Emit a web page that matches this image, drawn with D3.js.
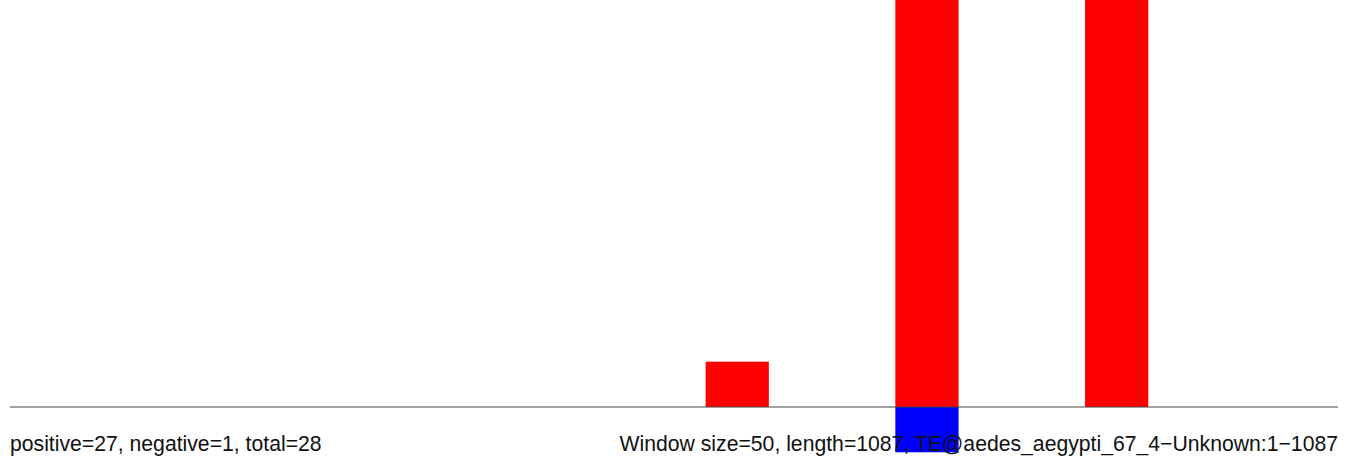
<!DOCTYPE html>
<html>
<head>
<meta charset="utf-8">
<script src="https://cdn.jsdelivr.net/npm/d3@7"></script>
<style>
  html, body { margin: 0; padding: 0; background: #fff; }
  svg { display: block; }
</style>
</head>
<body>
<svg id="chart" width="1350" height="465"></svg>
<script>
// Data: 21 windows of size 50 over a TE of length 1087
const windows = d3.range(21);
const positiveCounts = [0,0,0,0,0,0,0,0,0,0,0,1,0,0,13,0,0,13,0,0,0];
const negativeCounts = [0,0,0,0,0,0,0,0,0,0,0,0,0,0,1,0,0,0,0,0,0];
const leftLabel = "positive=27, negative=1, total=28";
const rightLabel = "Window size=50, length=1087, TE@aedes_aegypti_67_4\u2212Unknown:1\u22121087";

const svg = d3.select("#chart");

const x = d3.scaleBand().domain(windows).range([10, 1338]).padding(0);
const y = d3.scaleLinear().domain([0, 1]).range([407, 361.7]);

const gBars = svg.append("g");
gBars.selectAll("rect.pos")
  .data(windows.filter(i => positiveCounts[i] > 0))
  .join("rect")
  .attr("class", "pos")
  .attr("x", i => x(i))
  .attr("width", x.bandwidth())
  .attr("y", i => Math.max(0, y(positiveCounts[i])))
  .attr("height", i => y(0) - Math.max(0, y(positiveCounts[i])))
  .attr("fill", "#ff0000");

gBars.selectAll("rect.neg")
  .data(windows.filter(i => negativeCounts[i] > 0))
  .join("rect")
  .attr("class", "neg")
  .attr("x", i => x(i))
  .attr("width", x.bandwidth())
  .attr("y", y(0))
  .attr("height", i => y(-negativeCounts[i]) - y(0))
  .attr("fill", "#0000ff");

// baseline
svg.append("line")
  .attr("x1", 10).attr("x2", 1338)
  .attr("y1", y(0)).attr("y2", y(0))
  .attr("stroke", "#444").attr("stroke-width", 1);

svg.append("text")
  .attr("x", 10).attr("y", 451)
  .attr("font-family", "Liberation Sans, Arial, sans-serif")
  .attr("font-size", 21.2)
  .attr("fill", "#111")
  .text(leftLabel);

svg.append("text")
  .attr("x", 1338).attr("y", 451)
  .attr("text-anchor", "end")
  .attr("font-family", "Liberation Sans, Arial, sans-serif")
  .attr("font-size", 21.2)
  .attr("fill", "#111")
  .text(rightLabel);
</script>
</body>
</html>
